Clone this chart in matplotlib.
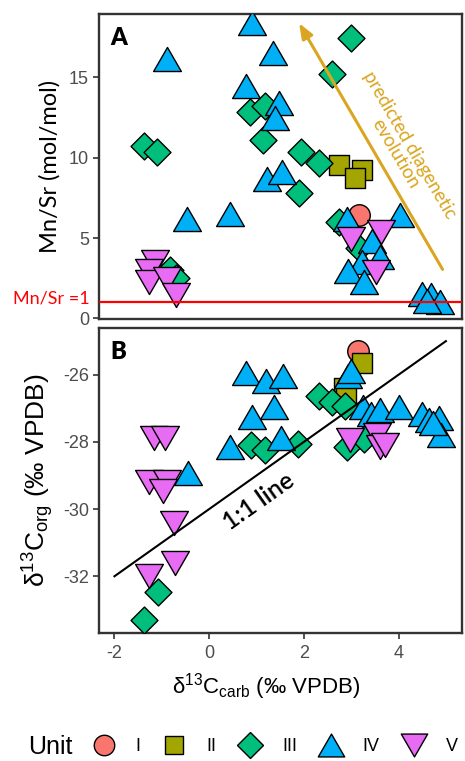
import numpy as np
import matplotlib
matplotlib.use("Agg")
import matplotlib.pyplot as plt
from matplotlib.path import Path
from matplotlib.lines import Line2D

plt.rcParams['font.family'] = ['Liberation Sans', 'DejaVu Sans']
plt.rcParams['mathtext.fontset'] = 'custom'
plt.rcParams['mathtext.rm'] = 'Liberation Sans'
plt.rcParams['mathtext.it'] = 'Liberation Sans:italic'
plt.rcParams['axes.unicode_minus'] = False

units = ["I", "II", "III", "IV", "V"]
colors = ["#F8766D", "#A3A500", "#00BF7D", "#00B0F6", "#E76BF3"]

# Panel A: d13C carb vs Mn/Sr
a_I_x = [3.16]
a_I_y = [6.40]
a_II_x = [2.75, 3.22, 3.09]
a_II_y = [9.55, 9.25, 8.76]
a_III_x = [-1.37, -1.10, 0.87, 1.19, 1.13, 2.99, 2.60, 1.95, 2.33, 1.89, 2.75, 3.17, -0.82, -0.70]
a_III_y = [10.69, 10.34, 12.86, 13.2, 11.1, 17.41, 15.2, 10.36, 9.68, 7.78, 6.0, 4.4, 3.0, 2.5]
a_IV_x = [-0.88, 0.90, 1.35, 0.77, 1.47, 1.40, 1.22, 1.53, -0.46, 0.45, 2.92, 4.03, 3.44, 3.61,
          3.23, 2.94, 3.26, 4.50, 4.68, 4.87, 4.60]
a_IV_y = [16.1, 18.35, 16.5, 14.43, 13.42, 12.48, 8.69, 9.1, 6.17, 6.48, 6.18, 6.40, 4.83, 3.84,
          3.48, 2.95, 2.24, 1.52, 1.47, 1.04, 1.09]
a_V_x = [-1.15, -1.26, -1.26, -0.89, -0.69, 3.0, 3.63, 3.52]
a_V_y = [3.48, 2.96, 2.24, 2.48, 1.46, 4.95, 5.39, 2.91]

# Panel B: d13C carb vs d13C org
b_I_x = [3.14]
b_I_y = [-25.29]
b_II_x = [3.22, 2.85, 2.90]
b_II_y = [-25.64, -26.4, -26.6]
b_III_x = [0.89, 1.17, 1.87, 2.32, 2.60, 2.86, 2.91, 3.28, -1.09, -1.37]
b_III_y = [-28.1, -28.23, -28.06, -26.63, -26.82, -26.92, -28.14, -27.9, -32.46, -33.3]
b_IV_x = [-0.44, 0.44, 0.77, 1.21, 1.57, 0.90, 1.36, 1.51, 2.94, 3.0, 3.24, 3.42, 3.61, 4.0,
          4.5, 4.65, 4.86, 4.89, 4.73]
b_IV_y = [-28.93, -28.16, -25.96, -26.2, -26.04, -27.25, -26.95, -27.89, -26.05, -25.9, -26.97,
          -27.16, -27.05, -26.95, -27.17, -27.34, -27.29, -27.79, -27.43]
b_V_x = [-1.16, -0.93, -1.27, -0.88, -0.97, -0.75, -0.73, -1.26, 2.98, 3.54, 3.61, 3.72]
b_V_y = [-27.88, -27.88, -29.2, -29.18, -29.45, -30.4, -31.61, -32.0, -27.94, -27.79, -28.14, -28.08]

one_to_one_x = [-2, 5]
arrow_start = (4.96, 2.9)
arrow_end = (1.87, 18.5)

tri_up = Path([(0, 0.433), (-0.5, -0.433), (0.5, -0.433), (0, 0.433)],
              [Path.MOVETO, Path.LINETO, Path.LINETO, Path.CLOSEPOLY])
tri_dn = Path([(0, -0.433), (-0.5, 0.433), (0.5, 0.433), (0, -0.433)],
              [Path.MOVETO, Path.LINETO, Path.LINETO, Path.CLOSEPOLY])
markers = ["o", "s", "D", tri_up, tri_dn]
msizes = [15.5, 14.0, 13.7, 20.0, 20.0]

fig = plt.figure(figsize=(4.65, 7.61), dpi=100)
L = 99.3 / 465
R = 462 / 465
axA = fig.add_axes([L, 1 - 319.3 / 761, R - L, (319.3 - 14.3) / 761])
axB = fig.add_axes([L, 1 - 632.7 / 761, R - L, (632.7 - 327.7) / 761])

frame_c = "#333333"
for ax in (axA, axB):
    for s in ax.spines.values():
        s.set_color(frame_c)
        s.set_linewidth(1.7)
    ax.set_xlim(-2.32, 5.34)
    ax.tick_params(colors=frame_c, labelcolor="#4D4D4D", length=4, width=1.2, labelsize=13)
    ax.set_xticks([-2, 0, 2, 4])
axB.tick_params(axis='x', pad=4.5)

axA.set_ylim(-0.05, 18.9)
axA.set_yticks([0, 5, 10, 15])
axA.tick_params(axis='x', bottom=False, labelbottom=False)
axB.set_ylim(-33.68, -24.6)
axB.set_yticks([-32, -30, -28, -26])

A_data = [(a_I_x, a_I_y), (a_II_x, a_II_y), (a_III_x, a_III_y), (a_IV_x, a_IV_y), (a_V_x, a_V_y)]
B_data = [(b_I_x, b_I_y), (b_II_x, b_II_y), (b_III_x, b_III_y), (b_IV_x, b_IV_y), (b_V_x, b_V_y)]

for ax, data in ((axA, A_data), (axB, B_data)):
    for i, (xs, ys) in enumerate(data):
        ax.scatter(xs, ys, s=msizes[i] ** 2, marker=markers[i], facecolor=colors[i],
                   edgecolor="black", linewidth=1.0, zorder=3 + i)

# Panel A extras (drawn above the points)
axA.axhline(1, color="red", lw=1.6, zorder=20)
axA.annotate("", xy=arrow_end, xytext=arrow_start,
             arrowprops=dict(arrowstyle="-|>,head_length=0.9,head_width=0.35", color="#DAA520", lw=2.2),
             zorder=20)
axA.text(4.08, 10.5, "predicted diagenetic\nevolution", color="#DAA520", fontsize=13.5,
         rotation=-59.7, ha="center", va="center", family="Lato", linespacing=0.95, zorder=21)
axA.text(-0.026, 1.25, "Mn/Sr =1", color="red", fontsize=13, ha="right", va="center",
         transform=axA.get_yaxis_transform(), family="Lato")
axA.text(0.03, 0.923, "A", transform=axA.transAxes, fontsize=17, fontweight="heavy",
         ha="left", va="center", family="Lato")

# Panel B extras
axB.plot(one_to_one_x, [v - 30 for v in one_to_one_x], color="black", lw=1.5, zorder=20)
axB.text(1.05, -29.78, "1:1 line", fontsize=18, rotation=35.3, ha="center", va="center",
         family="Lato", fontweight="semibold", zorder=21)
axB.text(0.03, 0.92, "B", transform=axB.transAxes, fontsize=17, fontweight="heavy",
         ha="left", va="center", family="Lato")

axA.set_ylabel("Mn/Sr (mol/mol)", fontsize=17, family="Lato", labelpad=6)
axB.set_ylabel("δ$^{13}$C$_{\\mathrm{org}}$ (‰ VPDB)", fontsize=19, labelpad=5)
axB.set_xlabel("δ$^{13}$C$_{\\mathrm{carb}}$ (‰ VPDB)", fontsize=16, labelpad=7)
axB.xaxis.label.set_x(0.4614)

# Legend
handles = [Line2D([], [], linestyle="none", marker=markers[i], markersize=msizes[i] * 0.95,
                  markerfacecolor=colors[i], markeredgecolor="black", markeredgewidth=1.0)
           for i in range(5)]
fig.text(28 / 465, 1 - 746.7 / 761, "Unit", fontsize=18, ha="left", va="center")
fig.legend(handles, units, loc="center left", bbox_to_anchor=(90 / 465, 1 - 746.7 / 761),
           ncol=5, frameon=False, fontsize=13, handlelength=1.5, handletextpad=1.0,
           columnspacing=1.15, borderpad=0, borderaxespad=0)

fig.savefig("out.png", dpi=100)
